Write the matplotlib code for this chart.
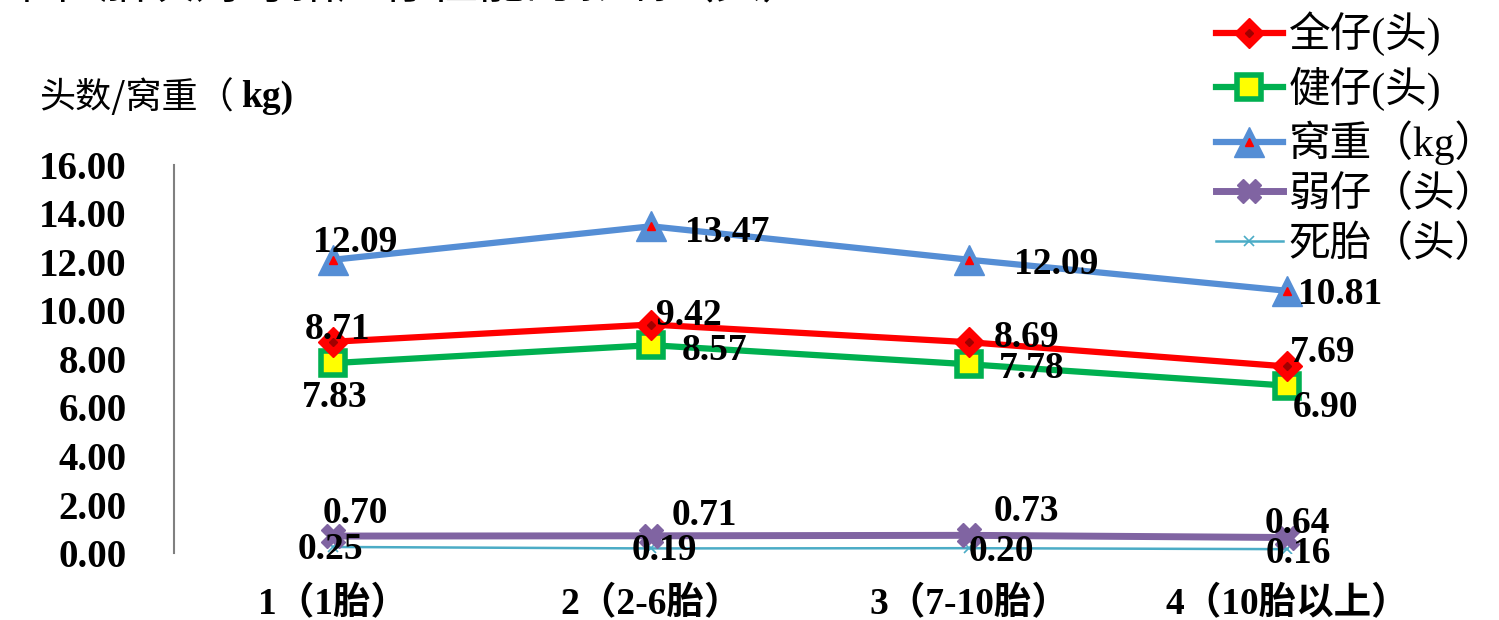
import matplotlib.pyplot as plt
from matplotlib.lines import Line2D
from matplotlib.legend_handler import HandlerTuple

# parity groups and litter performance
categories = ['1（1胎）', '2（2-6胎）', '3（7-10胎）', '4（10胎以上）']
total_born = [8.71, 9.42, 8.69, 7.69]
healthy = [7.83, 8.57, 7.78, 6.90]
litter_wt = [12.09, 13.47, 12.09, 10.81]
weak = [0.70, 0.71, 0.73, 0.64]
stillborn = [0.25, 0.19, 0.20, 0.16]
yticks = [0, 2, 4, 6, 8, 10, 12, 14, 16]

NUM = ['Liberation Serif', 'Noto Sans CJK SC', 'DejaVu Sans']
CJK = ['Noto Sans CJK SC', 'DejaVu Sans']

fig = plt.figure(figsize=(14.99, 6.2), dpi=100)
ax = fig.add_axes([0.116, 0.108, 0.849, 0.626])
x = list(range(1, len(categories) + 1))

red, green, blue, purple, teal = '#ff0000', '#00b050', '#558ed5', '#8064a2', '#4bacc6'

ax.plot(x, stillborn, color=teal, lw=1.8, marker='x', ms=7, mew=1.2, zorder=3)
ax.plot(x, weak, color=purple, lw=5, marker='X', ms=17, mec=purple, zorder=4)
ax.plot(x, healthy, color=green, lw=4.5, marker='s', ms=17, mfc='#ffff00',
        mec=green, mew=4, zorder=5)
ax.plot(x, total_born, color=red, lw=4.5, marker='D', ms=15, zorder=6)
ax.plot(x, total_born, ls='none', marker='D', ms=4, color='#a00000', zorder=7)
ax.plot(x, litter_wt, color=blue, lw=4.5, marker='^', ms=22, zorder=6)
ax.plot(x, litter_wt, ls='none', marker='^', ms=6, color='#ff0000', zorder=7)

# value labels, offsets in pixels per point
offsets = {
    'total': [(5, 12), (38, 9), (57, 5), (35, 14)],
    'healthy': [(2, -34), (63, -5), (62, -4), (38, -22)],
    'weight': [(22, 17), (76, -6), (87, -5), (53, -4)],
    'weak': [(22, 23), (53, 20), (57, 24), (10, 14)],
    'still': [(-3, -3), (13, -2), (32, -3), (11, -4)],
}
series = {'total': total_born, 'healthy': healthy, 'weight': litter_wt,
          'weak': weak, 'still': stillborn}
for key, vals in series.items():
    for xi, v, off in zip(x, vals, offsets[key]):
        ax.annotate(f'{v:.2f}', (xi, v), xytext=off, textcoords='offset pixels',
                    ha='center', va='center', fontsize=27, fontweight='bold',
                    family=NUM, color='black', zorder=10)

ax.set_xlim(0.5, 4.5)
ax.set_ylim(0, 16)
ax.set_yticks(yticks)
ax.set_yticklabels([f'{t:.2f}' for t in yticks], fontsize=28, fontweight='bold', family=NUM)
ax.set_xticks(x)
ax.set_xticklabels(categories, fontsize=27, fontweight='bold', family=NUM)
ax.tick_params(axis='y', length=0, pad=34)
ax.tick_params(axis='x', length=0, pad=24)
for s in ['top', 'right', 'bottom']:
    ax.spines[s].set_visible(False)
ax.spines['left'].set_color('#808080')
ax.spines['left'].set_linewidth(1.5)

fig.text(0.026, 0.843, '头数/窝重（', fontsize=26, family=CJK, va='center')
fig.text(0.161, 0.843, 'kg)', fontsize=27, family=NUM, fontweight='bold', va='center')
fig.text(0.0, 1.026, '  图   胎次对母猪产仔性能的影响（头）', fontsize=34,
         family=CJK, va='center')

# legend handles, with the inner markers layered on top
h_total = (Line2D([], [], color=red, lw=4.5, marker='D', ms=15),
           Line2D([], [], ls='none', marker='D', ms=4, color='#a00000'))
h_healthy = Line2D([], [], color=green, lw=4.5, marker='s', ms=17, mfc='#ffff00',
                   mec=green, mew=4)
h_weight = (Line2D([], [], color=blue, lw=4.5, marker='^', ms=22),
            Line2D([], [], ls='none', marker='^', ms=6, color='#ff0000'))
h_weak = Line2D([], [], color=purple, lw=5, marker='X', ms=17)
h_still = Line2D([], [], color=teal, lw=1.8, marker='x', ms=7, mew=1.2)
leg = fig.legend([h_total, h_healthy, h_weight, h_weak, h_still],
                 ['全仔(头)', '健仔(头)', '窝重（kg）', '弱仔（头）', '死胎（头）'],
                 handler_map={tuple: HandlerTuple(ndivide=1, pad=0)},
                 loc='upper left', bbox_to_anchor=(0.80, 1.008), frameon=False,
                 numpoints=1, handlelength=1.6, handletextpad=0.15,
                 labelspacing=0.24, borderaxespad=0,
                 prop={'family': NUM, 'size': 30})

fig.savefig('out.png', dpi=100)
